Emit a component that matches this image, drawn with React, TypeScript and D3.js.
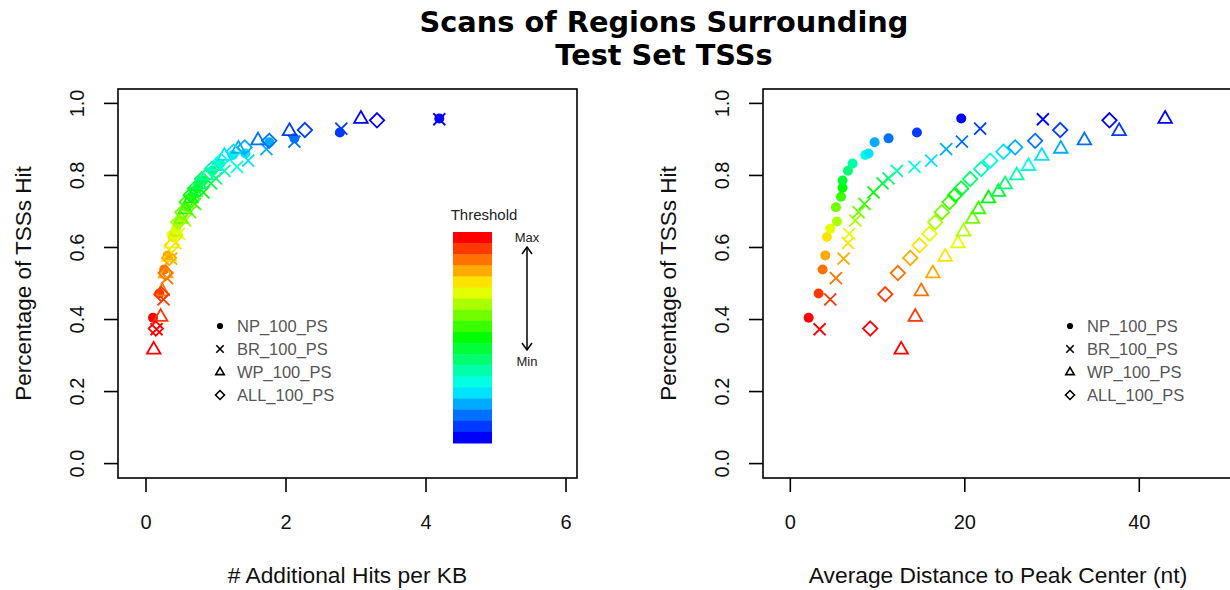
import React from 'react';
import * as d3 from 'd3';

// ---------- data ----------
const seriesNames = ['NP_100_PS', 'BR_100_PS', 'WP_100_PS', 'ALL_100_PS'];
const seriesShapes = ['circle', 'cross', 'triangle', 'diamond'];

const npPct = [0.405, 0.472, 0.539, 0.578, 0.629, 0.652, 0.672, 0.712, 0.741, 0.766, 0.786, 0.813, 0.833, 0.857, 0.861, 0.892, 0.903, 0.919, 0.958];
const npHits = [0.10, 0.19, 0.26, 0.31, 0.38, 0.43, 0.47, 0.57, 0.65, 0.74, 0.82, 0.95, 1.06, 1.24, 1.42, 1.76, 2.12, 2.77, 4.19];
const npDist = [2.10, 3.24, 3.70, 4.01, 4.20, 4.58, 5.35, 5.23, 5.81, 5.99, 5.99, 6.61, 7.14, 8.59, 8.97, 9.66, 11.26, 14.51, 19.59];

const brPct = [0.373, 0.456, 0.515, 0.569, 0.612, 0.638, 0.675, 0.698, 0.721, 0.753, 0.778, 0.792, 0.813, 0.824, 0.841, 0.873, 0.894, 0.930, 0.956];
const brHits = [0.15, 0.25, 0.30, 0.36, 0.42, 0.47, 0.56, 0.63, 0.70, 0.82, 0.93, 1.00, 1.12, 1.30, 1.46, 1.72, 2.12, 2.79, 4.19];
const brDist = [3.36, 4.58, 5.23, 6.11, 6.61, 6.76, 7.45, 7.83, 8.51, 9.54, 10.58, 11.26, 12.22, 14.24, 16.15, 17.87, 19.67, 21.76, 28.95];

const wpPct = [0.317, 0.408, 0.479, 0.529, 0.575, 0.612, 0.645, 0.680, 0.707, 0.737, 0.755, 0.776, 0.801, 0.827, 0.855, 0.875, 0.898, 0.924, 0.958];
const wpHits = [0.11, 0.21, 0.23, 0.28, 0.33, 0.37, 0.42, 0.50, 0.56, 0.64, 0.70, 0.76, 0.86, 1.00, 1.12, 1.32, 1.60, 2.05, 3.07];
const wpDist = [12.71, 14.32, 15.01, 16.34, 17.75, 19.21, 19.85, 20.89, 21.57, 22.72, 23.86, 24.63, 25.96, 27.30, 28.83, 31.00, 33.71, 37.69, 42.96];

const allPct = [0.375, 0.470, 0.529, 0.571, 0.606, 0.638, 0.670, 0.698, 0.726, 0.746, 0.764, 0.790, 0.818, 0.841, 0.866, 0.878, 0.896, 0.926, 0.953];
const allHits = [0.14, 0.22, 0.28, 0.33, 0.37, 0.41, 0.46, 0.52, 0.58, 0.64, 0.70, 0.80, 0.94, 1.07, 1.25, 1.41, 1.76, 2.27, 3.30];
const allDist = [9.16, 10.88, 12.33, 13.75, 14.81, 15.96, 16.61, 17.37, 18.25, 18.90, 19.59, 20.62, 21.88, 22.91, 24.43, 25.77, 28.06, 30.93, 36.58];

const yTicks = [0, 0.2, 0.4, 0.6, 0.8, 1.0];
const leftXTicks = [0, 2, 4, 6];
const rightXTicks = [0, 20, 40];
const nLevels = 19;

const titleLines = ['Scans of Regions Surrounding', 'Test Set TSSs'];

// ---------- helpers ----------
const palette = d3.range(nLevels).map((i) => d3.hsl((i * 240) / (nLevels - 1), 1, 0.5).formatHex());

const FONT = '"Liberation Sans", Arial, Helvetica, sans-serif';

function Marker({ shape, x, y, color, s = 1, sw = 1.8 }: any) {
  if (shape === 'circle') return <circle cx={x} cy={y} r={5 * s} fill={color} />;
  if (shape === 'cross') {
    const d = 6 * s;
    return (
      <path d={`M${x - d},${y - d}L${x + d},${y + d}M${x - d},${y + d}L${x + d},${y - d}`} stroke={color} strokeWidth={sw} fill="none" />
    );
  }
  if (shape === 'triangle') {
    const w = 6.8 * s;
    return (
      <path d={`M${x},${y - 7.5 * s}L${x + w},${y + 4.3 * s}L${x - w},${y + 4.3 * s}Z`} stroke={color} strokeWidth={sw} fill="none" strokeLinejoin="miter" />
    );
  }
  const d = 7.2 * s;
  return <path d={`M${x},${y - d}L${x + d},${y}L${x},${y + d}L${x - d},${y}Z`} stroke={color} strokeWidth={sw} fill="none" />;
}

function Panel({ left, right, top, bottom, xDomain, xTicks, xLabel, seriesX, clipId, legendX }: any) {
  const x = d3.scaleLinear().domain(xDomain).range([left, right]);
  const y = d3.scaleLinear().domain([-0.04, 1.04]).range([bottom, top]);
  const pcts = [npPct, brPct, wpPct, allPct];
  const tickLen = 14;
  return (
    <g fontFamily={FONT}>
      <defs>
        <clipPath id={clipId}>
          <rect x={left} y={top} width={right - left} height={bottom - top} />
        </clipPath>
      </defs>
      <g clipPath={`url(#${clipId})`}>
        {seriesX.map((xs: number[], si: number) =>
          xs.map((v, i) => (
            <Marker key={`${si}-${i}`} shape={seriesShapes[si]} x={x(v)} y={y(pcts[si][i])} color={palette[i]} />
          ))
        )}
      </g>
      <rect x={left} y={top} width={right - left} height={bottom - top} fill="none" stroke="#000" strokeWidth={1.6} />
      {xTicks.map((t: number) => (
        <g key={`xt${t}`}>
          <line x1={x(t)} x2={x(t)} y1={bottom} y2={bottom + tickLen} stroke="#000" strokeWidth={1.6} />
          <text x={x(t)} y={bottom + 51} fontSize={20} textAnchor="middle" fill="#111">{t}</text>
        </g>
      ))}
      {yTicks.map((t) => (
        <g key={`yt${t}`}>
          <line x1={left - tickLen} x2={left} y1={y(t)} y2={y(t)} stroke="#000" strokeWidth={1.6} />
          <text transform={`translate(${left - 34},${y(t)}) rotate(-90)`} fontSize={20} textAnchor="middle" fill="#111">{t.toFixed(1)}</text>
        </g>
      ))}
      <text x={(left + right) / 2} y={bottom + 105} fontSize={22.8} textAnchor="middle" fill="#111">{xLabel}</text>
      <text transform={`translate(${left - 87},${(top + bottom) / 2}) rotate(-90)`} fontSize={22.5} textAnchor="middle" fill="#111">Percentage of TSSs Hit</text>
      {seriesNames.map((n, i) => (
        <g key={n}>
          <Marker shape={seriesShapes[i]} x={legendX} y={326 + i * 23} color="#000" s={0.62} sw={1.6} />
          <text x={legendX + 17} y={332 + i * 23} fontSize={16.5} fill="#555">{n}</text>
        </g>
      ))}
    </g>
  );
}

export default function App() {
  const barTop = 232;
  const barBottom = 443;
  const barY = d3.scaleLinear().domain([0, nLevels]).range([barTop, barBottom]);
  return (
    <svg width={1230} height={590} style={{ position: 'absolute', left: 0, top: 0, background: '#fff' }}>
      <rect width={1230} height={590} fill="#fff" />
      {titleLines.map((t, i) => (
        <text key={t} x={664} y={32 + i * 33} fontSize={28.8} fontWeight="bold" textAnchor="middle" fontFamily='"DejaVu Sans", Verdana, sans-serif' fill="#000">{t}</text>
      ))}
      <Panel
        left={118} right={577} top={89} bottom={478}
        xDomain={[-0.4, 6.157]} xTicks={leftXTicks} xLabel="# Additional Hits per KB"
        seriesX={[npHits, brHits, wpHits, allHits]} clipId="clipL" legendX={220}
      />
      <Panel
        left={763} right={1233} top={89} bottom={478}
        xDomain={[-3.13, 50.74]} xTicks={rightXTicks} xLabel="Average Distance to Peak Center (nt)"
        seriesX={[npDist, brDist, wpDist, allDist]} clipId="clipR" legendX={1070}
      />
      {/* threshold color bar */}
      <g fontFamily={FONT}>
        <text x={484} y={220} fontSize={15} textAnchor="middle" fill="#222">Threshold</text>
        {palette.map((c, i) => (
          <rect key={c} x={453} y={barY(i)} width={39} height={barY(i + 1) - barY(i) + 0.5} fill={c} />
        ))}
        <text x={527} y={242} fontSize={13} textAnchor="middle" fill="#222">Max</text>
        <text x={527} y={366} fontSize={13} textAnchor="middle" fill="#222">Min</text>
        <line x1={527} x2={527} y1={247} y2={350} stroke="#000" strokeWidth={1.5} />
        <path d="M522,254L527,247L532,254M522,343L527,350L532,343" stroke="#000" strokeWidth={1.5} fill="none" />
      </g>
    </svg>
  );
}
